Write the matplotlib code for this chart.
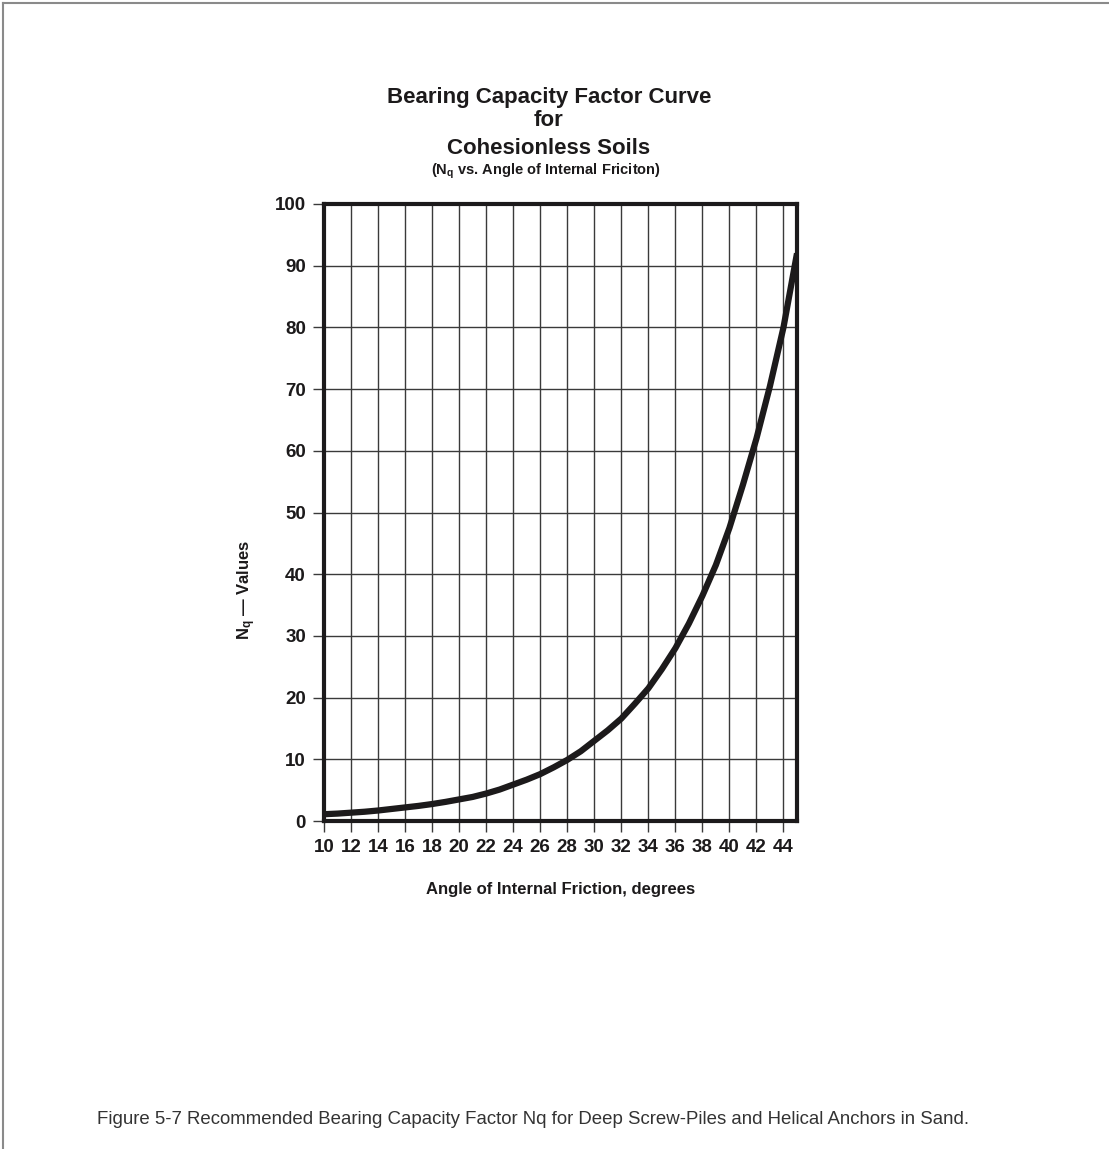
#For plot
import matplotlib.pyplot as plt
from matplotlib.lines import Line2D

# curve, one point per degree
friction_angle = list(range(10, 46))
nq_values = [1.1, 1.2, 1.35, 1.5, 1.7, 1.95, 2.2, 2.45, 2.75, 3.1, 3.5, 3.9, 4.45,
             5.1, 5.9, 6.7, 7.6, 8.7, 9.9, 11.3, 13.0, 14.7, 16.6, 19.0, 21.5,
             24.6, 28.0, 32.0, 36.5, 41.5, 47.5, 54.5, 62.0, 70.5, 80.0, 92.0]

x_ticks = list(range(10, 45, 2))
y_ticks = list(range(0, 101, 10))

title_lines = ['Bearing Capacity Factor Curve', 'for', 'Cohesionless Soils']
subtitle = '(N$_q$ vs. Angle of Internal Friciton)'
caption = ('Figure 5-7 Recommended Bearing Capacity Factor Nq for Deep '
           'Screw-Piles and Helical Anchors in Sand.')

plt.rcParams['font.family'] = ['Liberation Sans', 'DejaVu Sans']
plt.rcParams['mathtext.fontset'] = 'custom'
plt.rcParams['mathtext.rm'] = 'Liberation Sans:bold'
plt.rcParams['mathtext.it'] = 'Liberation Sans:bold'
plt.rcParams['mathtext.bf'] = 'Liberation Sans:bold'

ink = '#1c1a1b'
W, H = 1109, 1149
fig = plt.figure(figsize=(W / 100, H / 100), dpi=100)

# plot area in pixels: x 324..797, y 204..821
ax = fig.add_axes([324 / W, 1 - 821 / H, 473 / W, 617 / H])
ax.plot(friction_angle, nq_values, color=ink, lw=4.5, solid_capstyle='butt',
        solid_joinstyle='round', zorder=3)
ax.set_xlim(10, 45)
ax.set_ylim(0, 100)
ax.set_xticks(x_ticks)
ax.set_yticks(y_ticks)
ax.grid(True, color='#3a3a3a', lw=1.0)
for s in ax.spines.values():
    s.set_linewidth(3.0)
    s.set_color(ink)
ax.tick_params(direction='out', length=8, width=1.0, color='#3a3a3a',
               labelsize=13.5, labelcolor=ink, pad=5)
for lab in ax.get_xticklabels() + ax.get_yticklabels():
    lab.set_fontweight('bold')

ax.set_xlabel('Angle of Internal Friction, degrees', fontsize=12, fontweight='bold',
              color=ink, labelpad=19)
fig.text(247 / W, 1 - 590 / H, 'N$_q$ — Values', rotation=90, fontsize=12,
         fontweight='bold', color=ink, ha='center', va='center')

# titles
ys = [97, 121, 148]
for t, y in zip(title_lines, ys):
    fig.text(549 / W, 1 - y / H, t, fontsize=16, fontweight='bold', color=ink,
             ha='center', va='center')
fig.text(546 / W, 1 - 171 / H, subtitle, fontsize=10.5, fontweight='bold', color=ink,
         ha='center', va='center')

fig.text(97 / W, 1 - 1120 / H, caption, fontsize=13.4, color='#333333',
         ha='left', va='center')

# page border (left and top only)
fig.add_artist(Line2D([2.5 / W, 2.5 / W], [0, 1 - 3 / H], color='#8a8a8a', lw=1.5,
                      transform=fig.transFigure))
fig.add_artist(Line2D([2.5 / W, 1], [1 - 3 / H, 1 - 3 / H], color='#8a8a8a', lw=1.5,
                      transform=fig.transFigure))

fig.savefig('out.png', dpi=100)
